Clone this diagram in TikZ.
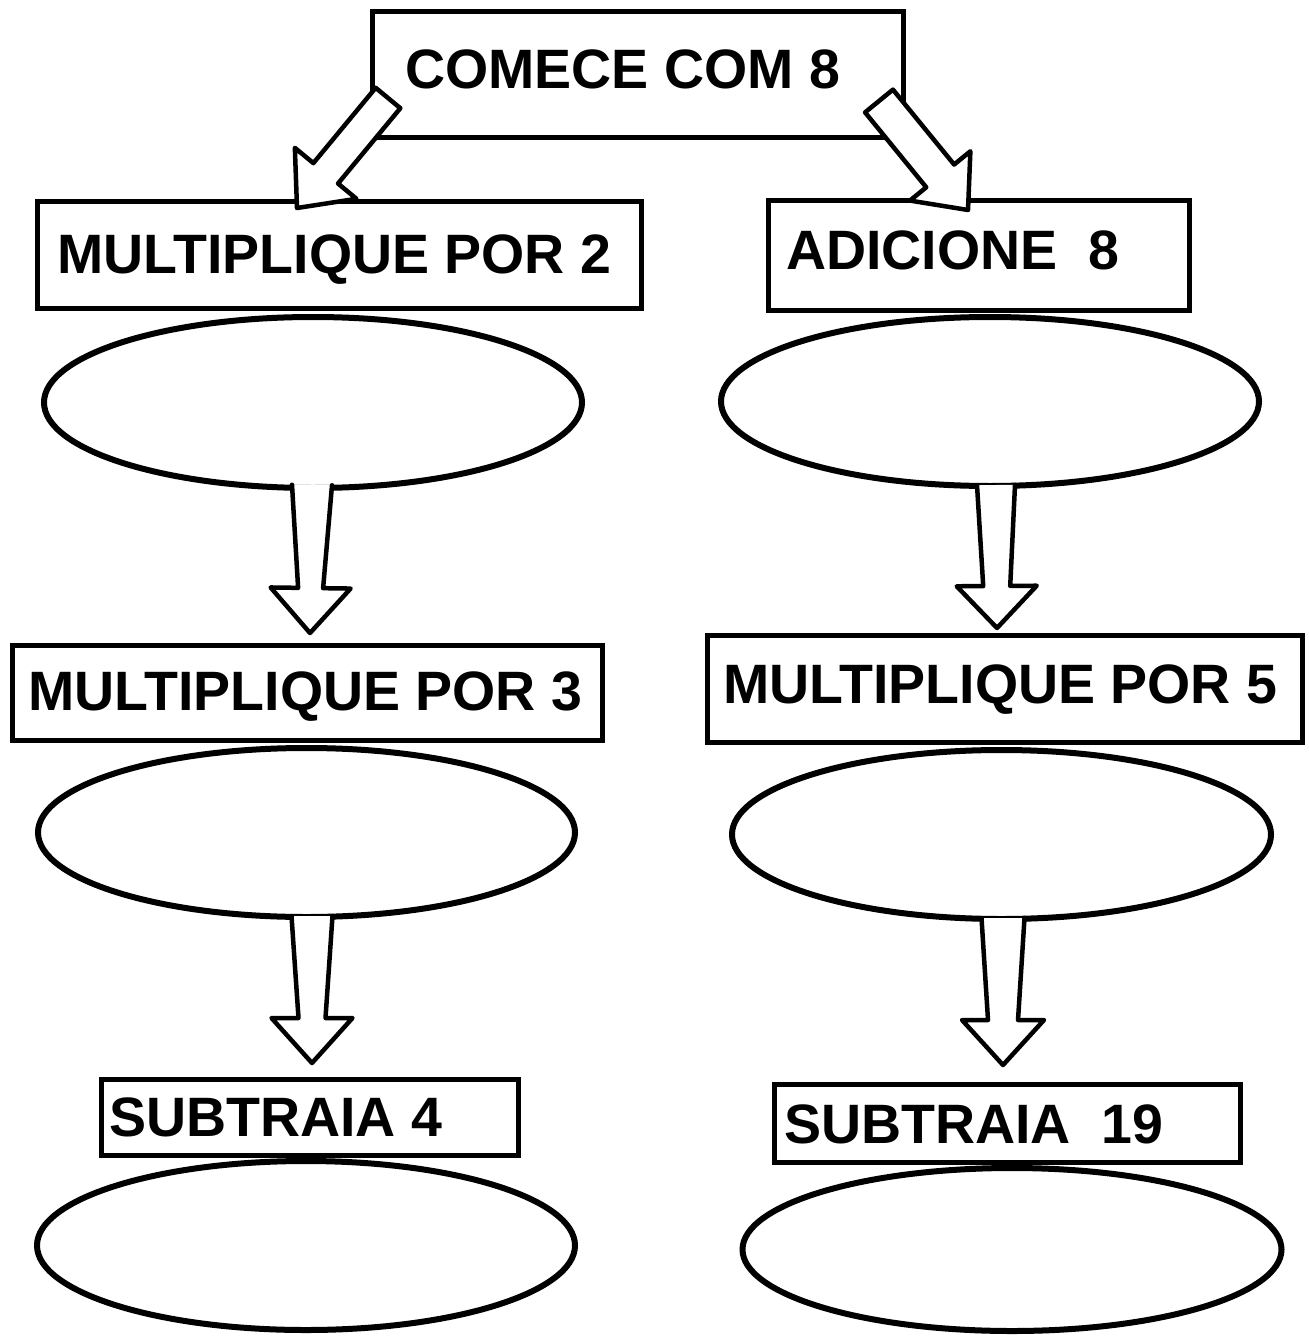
\documentclass[tikz,border=0pt]{standalone}
\usepackage{fontspec}
\setmainfont{Liberation Sans}
\usetikzlibrary{calc,shapes.geometric}
\tikzset{
  boxst/.style={draw=black, line width=5pt, fill=white, rectangle, inner sep=0pt},
  ellst/.style={draw=black, line width=6pt, fill=white, ellipse, inner sep=0pt},
  txt/.style={inner sep=0pt, anchor=base west, font=\fontsize{55.5}{60}\selectfont\bfseries},
  arrfill/.style={fill=white, draw=none},
  arrline/.style={draw=black, line width=4.5pt, line join=round, line cap=round}
}
% #1 tail, #2 tip, #3 tail half width, #4 neck half width, #5 head half width, #6 head length, #7 closing
\newcommand\blkarrow[7]{%
  \coordinate (ban) at ($(#2)!#6!(#1)$);
  \coordinate (batl) at ($(#1)!#3!90:(#2)$);
  \coordinate (batr) at ($(#1)!#3!-90:(#2)$);
  \coordinate (banl) at ($(ban)!#4!90:(#2)$);
  \coordinate (banr) at ($(ban)!#4!-90:(#2)$);
  \coordinate (bahl) at ($(ban)!#5!90:(#2)$);
  \coordinate (bahr) at ($(ban)!#5!-90:(#2)$);
  \path[arrfill] (batl) -- (banl) -- (bahl) -- (#2) -- (bahr) -- (banr) -- (batr) -- cycle;
  \draw[arrline] (batl) -- (banl) -- (bahl) -- (#2) -- (bahr) -- (banr) -- (batr) #7;
}
\begin{document}
\begin{tikzpicture}[x=1pt,y=-1pt]
\useasboundingbox (0,0) rectangle (1308,1337);
\fill[white] (0,0) rectangle (1308,1337);

% boxes
\node[boxst, minimum width=531pt, minimum height=126pt] (b1) at (638,74.5) {};
\node[boxst, minimum width=604pt, minimum height=107pt] (b2) at (339.5,255) {};
\node[boxst, minimum width=421pt, minimum height=110pt] (b3) at (979,255.5) {};
\node[boxst, minimum width=590pt, minimum height=95pt] (b4) at (307.5,693) {};
\node[boxst, minimum width=595pt, minimum height=107pt] (b5) at (1005,689) {};
\node[boxst, minimum width=417pt, minimum height=76pt] (b6) at (310,1117.5) {};
\node[boxst, minimum width=466pt, minimum height=78pt] (b7) at (1007.5,1123.5) {};

% ellipses
\node[ellst, minimum width=538pt, minimum height=171pt] (e1) at (313,402.5) {};
\node[ellst, minimum width=538pt, minimum height=169pt] (e2) at (990,401.5) {};
\node[ellst, minimum width=537pt, minimum height=169pt] (e3) at (306.5,832.5) {};
\node[ellst, minimum width=539pt, minimum height=169pt] (e4) at (1001.5,834.5) {};
\node[ellst, minimum width=538pt, minimum height=169pt] (e5) at (306,1245.5) {};
\node[ellst, minimum width=539pt, minimum height=163pt] (e6) at (1012,1249.5) {};

% texts
\node[txt] (t1) at (405,89) {COMECE COM 8};
\node[txt] (t2) at (57,274) {MULTIPLIQUE POR 2};
\node[txt] (t3) at (786,270) {ADICIONE\ \ 8};
\node[txt] (t4) at (28,710) {MULTIPLIQUE POR 3};
\node[txt] (t5) at (723,703) {MULTIPLIQUE POR 5};
\node[txt] (t6) at (109,1136) {SUBTRAIA 4};
\node[txt] (t7) at (784,1143) {SUBTRAIA\ \ 19};

% arrow end points
\coordinate (a1s) at (388,98);   \coordinate (a1e) at (297,208);
\coordinate (a2s) at (879,101);  \coordinate (a2e) at (968,210);
\coordinate (a3s) at (312,485);  \coordinate (a3e) at (310,633);
\coordinate (a4s) at (996,485);  \coordinate (a4e) at (997,628);
\coordinate (a5s) at (312,916);  \coordinate (a5e) at (312,1063);
\coordinate (a6s) at (1003,918); \coordinate (a6e) at (1003,1065);

\blkarrow{a1s}{a1e}{16pt}{16pt}{40pt}{45pt}{-- cycle}
\blkarrow{a2s}{a2e}{18pt}{18pt}{39pt}{44pt}{-- cycle}
\blkarrow{a3s}{a3e}{20pt}{12.5pt}{40pt}{45pt}{}
\blkarrow{a4s}{a4e}{19pt}{13.5pt}{40pt}{42pt}{}
\blkarrow{a5s}{a5e}{20.5pt}{13.5pt}{40.5pt}{45pt}{}
\blkarrow{a6s}{a6e}{21.5pt}{15pt}{41pt}{45pt}{}
\end{tikzpicture}
\end{document}
